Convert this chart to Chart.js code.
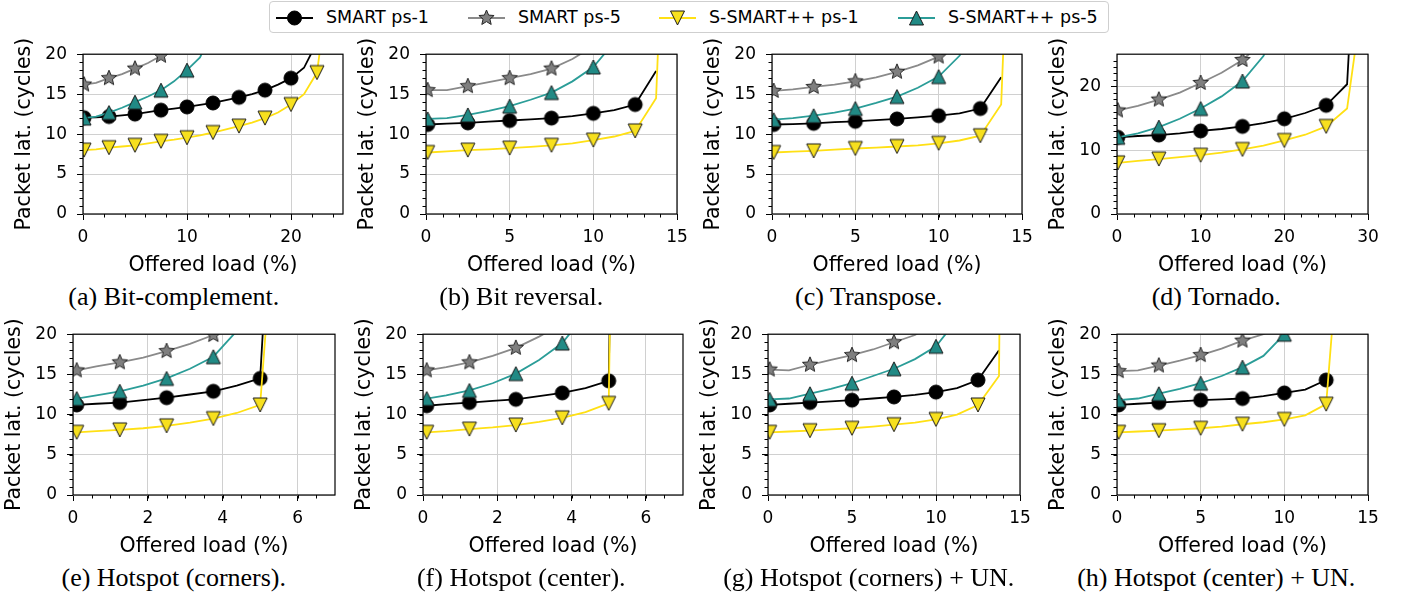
<!DOCTYPE html>
<html>
<head>
<meta charset="utf-8">
<script src="https://cdn.jsdelivr.net/npm/chart.js@4.4.1/dist/chart.umd.min.js"></script>
<style>
  body { margin: 0; width: 1406px; height: 601px; background: #fff; position: relative; overflow: hidden; font-family: "DejaVu Sans", sans-serif; }
  canvas.plot { position: absolute; }
  .cap { position: absolute; font-family: "Liberation Serif", serif; font-size: 26px; line-height: 1; white-space: nowrap; transform: translate(-50%, -50%); color: #000; }
  #legend { position: absolute; left: 269px; top: 1px; width: 838px; height: 30px; border: 1px solid #cfcfcf; border-radius: 4px; background: #fff; }
  .lg-handle { position: absolute; top: 5px; }
  .lg-text { position: absolute; top: 0; line-height: 31px; font-size: 17.5px; white-space: nowrap; color: #000; }
</style>
</head>
<body>
<div id="legend"></div>
<script>
// series names, drawn in this order
const seriesLabels = ['SMART ps-1', 'SMART ps-5', 'S-SMART++ ps-1', 'S-SMART++ ps-5'];

// offered load (%) sample points
const loadBitComp = [0.1, 1.25, 2.5, 3.75, 5, 6.25, 7.5, 8.75, 10, 11.25, 12.5, 13.75, 15, 16.25, 17.5, 18.75, 20, 21.25, 22.5, 23.75];
const loadMid = [0.1, 1.25, 2.5, 3.75, 5, 6.25, 7.5, 8.75, 10, 11.25, 12.5, 13.75, 15];
const loadTornado = [0.1, 2.5, 5, 7.5, 10, 12.5, 15, 17.5, 20, 22.5, 25, 27.5, 30];
const loadHotspot = [0.1, 0.625, 1.25, 1.875, 2.5, 3.125, 3.75, 4.375, 5, 5.625];

// packet latency (cycles)
// (a) bit-complement
const bitCompSmart1 = [12.05, 12.1, 12.2, 12.35, 12.5, 12.75, 13.0, 13.2, 13.4, 13.65, 13.9, 14.25, 14.6, 15.0, 15.5, 16.2, 17.0, 18.3, 21.5];
const bitCompSmart5 = [16.2, 16.4, 17.0, 17.5, 18.2, 18.9, 19.8, 21.0, 22.5];
const bitCompSS1 = [8.0, 8.1, 8.3, 8.45, 8.6, 8.85, 9.1, 9.3, 9.55, 9.85, 10.2, 10.6, 11.0, 11.45, 12.0, 12.7, 13.7, 15.0, 17.7, 30];
const bitCompSS5 = [12.0, 12.2, 12.7, 13.3, 14.0, 14.7, 15.5, 16.6, 18.0, 19.6, 23];
// (b) bit reversal
const bitRevSmart1 = [11.2, 11.3, 11.4, 11.55, 11.7, 11.85, 12.0, 12.25, 12.6, 13.0, 13.7, 17.9];
const bitRevSmart5 = [15.5, 15.5, 16.0, 16.5, 17.0, 17.5, 18.2, 19.4, 21.0, 24];
const bitRevSS1 = [7.7, 7.85, 8.0, 8.1, 8.25, 8.4, 8.6, 8.85, 9.25, 9.7, 10.4, 14.5, 80];
const bitRevSS5 = [11.9, 12.0, 12.4, 12.9, 13.5, 14.3, 15.2, 16.6, 18.4, 21.5];
// (c) transpose
const transSmart1 = [11.2, 11.25, 11.35, 11.5, 11.6, 11.75, 11.9, 12.1, 12.3, 12.6, 13.2, 17.1];
const transSmart5 = [15.4, 15.6, 15.9, 16.2, 16.6, 17.1, 17.8, 18.6, 19.7, 21.5];
const transSS1 = [7.7, 7.8, 7.9, 8.05, 8.2, 8.3, 8.45, 8.6, 8.85, 9.2, 9.8, 13.7, 80];
const transSS5 = [11.8, 12.0, 12.3, 12.7, 13.2, 13.9, 14.7, 15.8, 17.2, 19.8, 24];
// (d) tornado
const tornSmart1 = [12.0, 12.2, 12.35, 12.6, 13.0, 13.3, 13.7, 14.2, 14.9, 15.8, 17.0, 20.3, 80];
const tornSmart5 = [16.2, 16.9, 17.9, 19.0, 20.5, 22.1, 24.1, 27];
const tornSS1 = [8.0, 8.3, 8.6, 8.9, 9.2, 9.6, 10.1, 10.7, 11.5, 12.4, 13.7, 16.5, 40];
const tornSS5 = [12.0, 12.6, 13.6, 14.9, 16.5, 18.4, 20.8, 24.7, 32];
// (e) hotspot (corners)
const hsCornSmart1 = [11.2, 11.35, 11.5, 11.8, 12.1, 12.5, 12.9, 13.6, 14.5, 65];
const hsCornSmart5 = [15.5, 16.0, 16.5, 17.1, 17.9, 18.8, 19.9, 21.3];
const hsCornSS1 = [7.8, 7.95, 8.1, 8.3, 8.6, 9.0, 9.5, 10.2, 11.2, 50];
const hsCornSS5 = [12.0, 12.4, 12.9, 13.6, 14.5, 15.7, 17.2, 20.4, 26];
// (f) hotspot (center)
const hsCentSmart1 = [11.1, 11.3, 11.5, 11.7, 11.9, 12.3, 12.7, 13.3, 14.2, 200];
const hsCentSmart5 = [15.5, 15.9, 16.5, 17.3, 18.3, 19.7, 21.3];
const hsCentSS1 = [7.8, 7.95, 8.2, 8.4, 8.7, 9.1, 9.6, 10.3, 11.4, 200];
const hsCentSS5 = [12.0, 12.4, 13.0, 13.9, 15.1, 16.8, 18.9, 22.5];
// (g) hotspot (corners) + UN
const hcUnSmart1 = [11.2, 11.35, 11.5, 11.65, 11.8, 12.0, 12.2, 12.45, 12.8, 13.3, 14.3, 18.0];
const hcUnSmart5 = [15.6, 15.5, 16.2, 16.8, 17.4, 18.1, 19.0, 19.9, 21.5];
const hcUnSS1 = [7.8, 7.9, 8.0, 8.15, 8.3, 8.5, 8.75, 9.0, 9.4, 10.0, 11.2, 14.8, 300];
const hcUnSS5 = [11.9, 12.0, 12.6, 13.2, 13.9, 14.8, 15.7, 16.9, 18.5, 21.8];
// (h) hotspot (center) + UN
const hmUnSmart1 = [11.2, 11.35, 11.5, 11.65, 11.8, 11.9, 12.0, 12.3, 12.7, 13.1, 14.3];
const hmUnSmart5 = [15.4, 15.5, 16.1, 16.7, 17.4, 18.2, 19.2, 20.0, 21.5];
const hmUnSS1 = [7.8, 7.9, 8.0, 8.15, 8.3, 8.5, 8.8, 9.05, 9.4, 9.9, 11.3, 44];
const hmUnSS5 = [11.8, 12.0, 12.6, 13.2, 13.9, 14.8, 15.9, 17.3, 20.0, 25];

// tick labels
const xTicksBitComp = [0, 10, 20];
const xTicks15 = [0, 5, 10, 15];
const xTicksTornado = [0, 10, 20, 30];
const xTicksHotspot = [0, 2, 4, 6];
const yTicks20 = [0, 5, 10, 15, 20];
const yTicks25 = [0, 10, 20];

const captions = ['(a) Bit-complement.', '(b) Bit reversal.', '(c) Transpose.', '(d) Tornado.',
  '(e) Hotspot (corners).', '(f) Hotspot (center).', '(g) Hotspot (corners) + UN.', '(h) Hotspot (center) + UN.'];

const styles = [
  { line: '#000000', fill: '#000000', edge: '#000000', marker: 'circle' },
  { line: '#8a8a8a', fill: '#7f7f7f', edge: '#262626', marker: 'star' },
  { line: '#ffe014', fill: '#f7e01e', edge: '#1a1a1a', marker: 'down' },
  { line: '#2b9d98', fill: '#218a85', edge: '#1a1a1a', marker: 'up' },
];

// box = plot area [left, top, width, height] on the page
const panels = [
  { load: loadBitComp, lat: [bitCompSmart1, bitCompSmart5, bitCompSS1, bitCompSS5], xMax: 25, xTicks: xTicksBitComp, xMinor: 2, yMax: 20, yTicks: yTicks20, box: [83, 48, 260, 166] },
  { load: loadMid, lat: [bitRevSmart1, bitRevSmart5, bitRevSS1, bitRevSS5], xMax: 15, xTicks: xTicks15, xMinor: 1, yMax: 20, yTicks: yTicks20, box: [426, 48, 251, 166] },
  { load: loadMid, lat: [transSmart1, transSmart5, transSS1, transSS5], xMax: 15, xTicks: xTicks15, xMinor: 1, yMax: 20, yTicks: yTicks20, box: [772, 48, 250, 166] },
  { load: loadTornado, lat: [tornSmart1, tornSmart5, tornSS1, tornSS5], xMax: 30, xTicks: xTicksTornado, xMinor: 2, yMax: 25, yTicks: yTicks25, box: [1117, 48, 251, 166] },
  { load: loadHotspot, lat: [hsCornSmart1, hsCornSmart5, hsCornSS1, hsCornSS5], xMax: 7, xTicks: xTicksHotspot, xMinor: 0.5, yMax: 20, yTicks: yTicks20, box: [73, 328, 262, 167] },
  { load: loadHotspot, lat: [hsCentSmart1, hsCentSmart5, hsCentSS1, hsCentSS5], xMax: 7, xTicks: xTicksHotspot, xMinor: 0.5, yMax: 20, yTicks: yTicks20, box: [423, 328, 260, 167] },
  { load: loadMid, lat: [hcUnSmart1, hcUnSmart5, hcUnSS1, hcUnSS5], xMax: 15, xTicks: xTicks15, xMinor: 1, yMax: 20, yTicks: yTicks20, box: [768, 328, 252, 167] },
  { load: loadMid, lat: [hmUnSmart1, hmUnSmart5, hmUnSS1, hmUnSS5], xMax: 15, xTicks: xTicks15, xMinor: 1, yMax: 20, yTicks: yTicks20, box: [1117, 328, 251, 167] },
];

const PAD_LEFT = 75, PAD_TOP = 14, PAD_RIGHT = 18, PAD_BOTTOM = 66;

function markerPath(ctx, kind, cx, cy) {
  ctx.beginPath();
  if (kind === 'circle') {
    ctx.arc(cx, cy, 7, 0, Math.PI * 2);
  } else if (kind === 'star') {
    const r = 8;
    for (let k = 0; k < 10; k++) {
      const rr = k % 2 ? r * 0.45 : r;
      const ang = -Math.PI / 2 + k * Math.PI / 5;
      ctx.lineTo(cx + rr * Math.cos(ang), cy + rr * Math.sin(ang));
    }
    ctx.closePath();
  } else if (kind === 'up') {
    const r = 7;
    ctx.moveTo(cx, cy - r); ctx.lineTo(cx - r, cy + r); ctx.lineTo(cx + r, cy + r); ctx.closePath();
  } else {
    const r = 7;
    ctx.moveTo(cx, cy + r); ctx.lineTo(cx - r, cy - r); ctx.lineTo(cx + r, cy - r); ctx.closePath();
  }
}

function drawMarker(ctx, st, cx, cy) {
  markerPath(ctx, st.marker, cx, cy);
  ctx.fillStyle = st.fill;
  ctx.strokeStyle = st.edge;
  ctx.lineWidth = 1;
  ctx.fill();
  ctx.stroke();
}

function makeSprite(st) {
  const c = document.createElement('canvas');
  c.width = 20; c.height = 20;
  drawMarker(c.getContext('2d'), st, 10, 10);
  return c;
}
const sprites = styles.map(makeSprite);

// black frame round the plot + short minor ticks
const frameAndMinor = {
  id: 'frameAndMinor',
  afterDraw(chart, args, opts) {
    const { ctx, chartArea: a, scales: { x, y } } = chart;
    ctx.save();
    ctx.strokeStyle = '#000';
    ctx.lineWidth = 1;
    ctx.beginPath();
    for (let v = opts.xMinor; v < x.max - 1e-6; v += opts.xMinor) {
      const px = Math.round(x.getPixelForValue(v)) + 0.5;
      ctx.moveTo(px, a.bottom); ctx.lineTo(px, a.bottom + 3.5);
    }
    for (let v = 1; v < y.max - 1e-6; v += 1) {
      const py = Math.round(y.getPixelForValue(v)) + 0.5;
      ctx.moveTo(a.left, py); ctx.lineTo(a.left - 3.5, py);
    }
    ctx.stroke();
    ctx.lineWidth = 1.2;
    ctx.strokeRect(a.left, a.top, a.right - a.left, a.bottom - a.top);
    ctx.restore();
  }
};

panels.forEach((p, i) => {
  const [left, top, w, h] = p.box;
  const cv = document.createElement('canvas');
  cv.className = 'plot';
  cv.width = PAD_LEFT + w + PAD_RIGHT;
  cv.height = PAD_TOP + h + PAD_BOTTOM;
  cv.style.left = (left - PAD_LEFT) + 'px';
  cv.style.top = (top - PAD_TOP) + 'px';
  document.body.appendChild(cv);

  const datasets = p.lat.map((vals, s) => ({
    label: seriesLabels[s],
    data: vals.map((v, k) => ({ x: p.load[k], y: v })),
    borderColor: styles[s].line,
    borderWidth: 1.8,
    tension: 0,
    fill: false,
    pointStyle: sprites[s],
    pointRadius: ctx => ctx.dataIndex % 2 === 0 ? 7 : 0,
    pointHoverRadius: 0,
    order: 4 - s,
  }));

  new Chart(cv, {
    type: 'line',
    data: { datasets },
    plugins: [frameAndMinor],
    options: {
      responsive: false,
      animation: false,
      devicePixelRatio: 1,
      events: [],
      layout: { padding: { left: 0, top: PAD_TOP, right: PAD_RIGHT, bottom: 0 } },
      plugins: {
        legend: { display: false },
        tooltip: { enabled: false },
        frameAndMinor: { xMinor: p.xMinor },
      },
      scales: {
        x: {
          type: 'linear', min: 0, max: p.xMax,
          afterBuildTicks: sc => { sc.ticks = p.xTicks.map(v => ({ value: v })); },
          afterFit: sc => { sc.height = PAD_BOTTOM; },
          ticks: { autoSkip: false, maxRotation: 0, padding: 7, color: '#000', font: { family: 'DejaVu Sans', size: 17 } },
          grid: { color: '#d0d0d0', lineWidth: 1, tickColor: '#000', tickLength: 6, tickWidth: 1 },
          border: { display: false },
          title: { display: true, text: 'Offered load (%)', color: '#000', padding: { top: 0, bottom: 2 }, font: { family: 'DejaVu Sans', size: 20.5 } },
        },
        y: {
          type: 'linear', min: 0, max: p.yMax,
          afterBuildTicks: sc => { sc.ticks = p.yTicks.map(v => ({ value: v })); },
          afterFit: sc => { sc.width = PAD_LEFT; },
          ticks: { autoSkip: false, padding: 10, color: '#000', font: { family: 'DejaVu Sans', size: 17 } },
          grid: { color: '#d0d0d0', lineWidth: 1, tickColor: '#000', tickLength: 6, tickWidth: 1 },
          border: { display: false },
          title: { display: true, text: 'Packet lat. (cycles)', color: '#000', padding: { top: 4, bottom: 4 }, font: { family: 'DejaVu Sans', size: 20.5 } },
        },
      },
    },
  });

  const cap = document.createElement('div');
  cap.className = 'cap';
  cap.textContent = captions[i];
  cap.style.left = (173.75 + 347.5 * (i % 4)) + 'px';
  cap.style.top = (i < 4 ? 297 : 578) + 'px';
  document.body.appendChild(cap);
});

// legend across the top
const legendLeft = [276, 468, 659, 898];
const legend = document.getElementById('legend');
seriesLabels.forEach((name, s) => {
  const hc = document.createElement('canvas');
  hc.className = 'lg-handle';
  hc.width = 37; hc.height = 22;
  hc.style.left = (legendLeft[s] - 270) + 'px';
  const g = hc.getContext('2d');
  g.strokeStyle = styles[s].line;
  g.lineWidth = 1.8;
  g.beginPath(); g.moveTo(0, 11); g.lineTo(37, 11); g.stroke();
  drawMarker(g, styles[s], 18.5, 11);
  legend.appendChild(hc);
  const t = document.createElement('span');
  t.className = 'lg-text';
  t.style.left = (legendLeft[s] - 270 + 50) + 'px';
  t.textContent = name;
  legend.appendChild(t);
});
</script>
</body>
</html>
